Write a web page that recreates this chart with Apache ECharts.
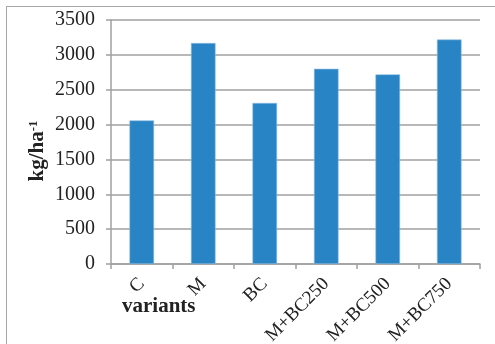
<!DOCTYPE html>
<html>
<head>
<meta charset="utf-8">
<style>
  html, body { margin: 0; padding: 0; background: #fff; }
  #frame { position: absolute; left: 6px; top: 6px; width: 495px; height: 344px;
           border-left: 1px solid #a6a6a6; border-top: 1px solid #a6a6a6; }
  #chart { position: absolute; left: 0; top: 0; width: 495px; height: 344px; }
</style>
<script src="https://cdn.jsdelivr.net/npm/echarts@6/dist/echarts.min.js"></script>
</head>
<body>
<div id="frame"></div>
<div id="chart"></div>
<script>
// Yield per treatment variant
const categories = ['C', 'M', 'BC', 'M+BC250', 'M+BC500', 'M+BC750'];
const yieldValues = [2060, 3170, 2310, 2800, 2720, 3220];
const yTicks = [0, 500, 1000, 1500, 2000, 2500, 3000, 3500];

const serif = '"Liberation Serif", "Times New Roman", serif';
const chart = echarts.init(document.getElementById('chart'), null, { renderer: 'canvas' });

chart.setOption({
  animation: false,
  backgroundColor: 'transparent',
  grid: { left: 111, right: 15, top: 20, bottom: 80, containLabel: false, outerBoundsMode: 'none' },
  xAxis: {
    type: 'category',
    data: categories,
    axisLine: { show: true, lineStyle: { color: '#a0a0a0', width: 1.5 } },
    axisTick: { show: true, length: 5, lineStyle: { color: '#a0a0a0', width: 1.5 } },
    axisLabel: {
      rotate: 45, margin: 17, color: '#222',
      fontFamily: serif, fontSize: 19
    }
  },
  yAxis: {
    type: 'value',
    min: yTicks[0],
    max: yTicks[yTicks.length - 1],
    interval: 500,
    name: '{m|kg/ha}{s|-1}',
    nameLocation: 'middle',
    nameRotate: 90,
    nameGap: 62,
    nameMoveOverlap: false,
    nameTextStyle: {
      padding: [0, 18, 0, 0],
      rich: {
        m: { fontFamily: serif, fontWeight: 'bold', fontSize: 21, color: '#222' },
        s: { fontFamily: serif, fontWeight: 'bold', fontSize: 13, color: '#222',
             verticalAlign: 'top', padding: [0, 0, 9, 0] }
      }
    },
    axisLine: { show: true, lineStyle: { color: '#a0a0a0', width: 1.5 } },
    axisTick: { show: true, length: 5, lineStyle: { color: '#a0a0a0', width: 1.5 } },
    splitLine: { show: true, lineStyle: { color: '#a0a0a0', width: 1.5 } },
    axisLabel: {
      color: '#222', fontFamily: serif, fontSize: 20, margin: 16,
      formatter: function (v) { return String(v); }
    }
  },
  graphic: [{
    type: 'text',
    left: 122,
    top: 296,
    style: { text: 'variants', fontFamily: serif, fontWeight: 'bold', fontSize: 21, fill: '#222' }
  }],
  series: [{
    type: 'bar',
    data: yieldValues,
    barWidth: '40%',
    itemStyle: { color: '#2884c4', borderColor: '#8fc0e4', borderWidth: 0.6 }
  }]
});
</script>
</body>
</html>
